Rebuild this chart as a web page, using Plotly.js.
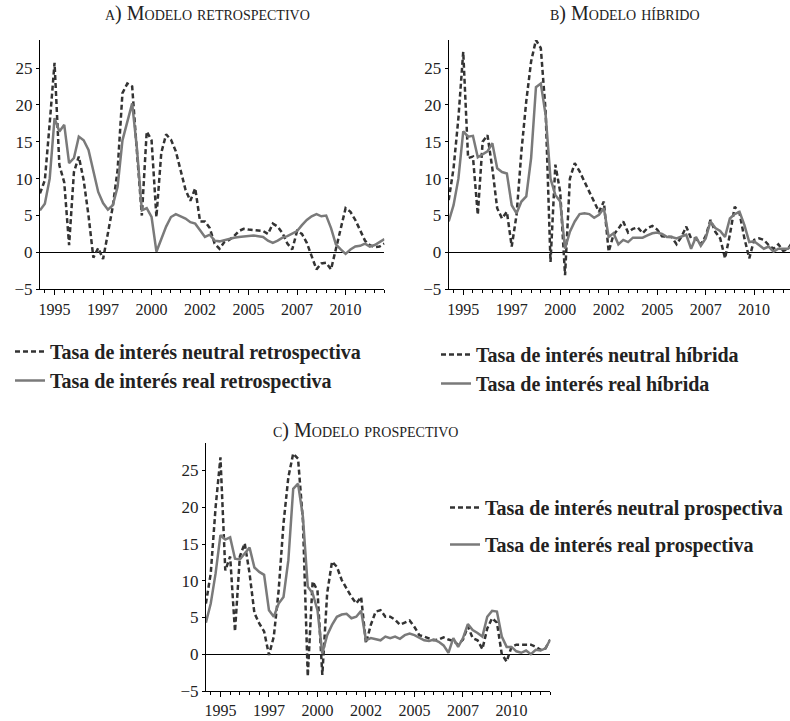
<!DOCTYPE html>
<html>
<head>
<meta charset="utf-8">
<script src="https://cdn.plot.ly/plotly-3.0.1.min.js"></script>
<style>html,body{margin:0;padding:0;background:#fff}#chart{width:790px;height:721px}</style>
</head>
<body>
<div id="chart"></div>
<script>
// trimestres: 1994 T2 a 2012 T1
const quarters = [];
for (let y = 1994; y <= 2012; y++) {
    for (let q = 0; q < 4; q++) {
        const t = y + q / 4;
        if (t >= 1994.25 && t <= 2012) quarters.push(t);
    }
}

const tickYears = [1995, 1997.5, 2000, 2002.5, 2005, 2007.5, 2010];
const tickLabels = ['1995', '1997', '2000', '2002', '2005', '2007', '2010'];

// a) modelo retrospectivo
const retroNeutral = [8.0, 9.8, 17.5, 25.7, 11.8, 9.5, 1.0, 10.9, 13.0, 9.8, 5.0, -0.7, 0.6, -0.9, 2.6, 6.2, 11.2, 21.6, 22.9, 22.5,
    13.5, 5.0, 16.4, 15.2, 4.8, 13.5, 16.0, 15.3, 13.7, 11.0, 8.5, 7.0, 8.7, 4.2, 4.2, 3.3, 1.2, 0.5, 1.4, 1.7,
    2.2, 2.9, 3.2, 3.1, 3.0, 2.9, 2.9, 2.5, 3.9, 3.5, 2.6, 1.2, 0.4, 2.9, 2.5, 1.3, -0.5, -2.3, -1.5, -1.4,
    -2.3, 0.5, 3.3, 6.0, 5.5, 4.4, 3.0, 1.6, 1.0, 0.7, 0.8, 1.2];
const retroReal = [5.7, 6.6, 10.0, 18.2, 16.4, 17.3, 12.1, 12.8, 15.7, 15.2, 13.9, 11.2, 8.2, 6.7, 5.8, 6.4, 8.9, 15.2, 17.7, 20.2,
    14.0, 5.7, 6.0, 4.8, 0.1, 1.8, 3.5, 4.8, 5.2, 4.9, 4.6, 4.1, 3.9, 3.0, 2.1, 2.4, 1.6, 1.5, 1.7, 1.8,
    2.0, 2.1, 2.2, 2.3, 2.3, 2.2, 2.1, 1.6, 1.3, 1.6, 2.0, 2.2, 2.6, 2.9, 3.7, 4.4, 4.9, 5.2, 4.9, 5.0,
    3.3, 1.1, 0.4, -0.2, 0.4, 0.8, 0.9, 1.2, 0.8, 1.0, 1.4, 1.8];

// b) modelo híbrido
const hibNeutral = [7.1, 11.4, 18.2, 27.2, 12.8, 13.0, 5.1, 15.0, 15.9, 11.4, 6.0, 4.6, 5.5, 0.8, 5.1, 13.7, 20.5, 25.9, 28.8, 27.7,
    19.1, -1.3, 11.9, 8.2, -3.1, 10.0, 12.1, 11.0, 9.6, 8.2, 6.9, 5.5, 6.9, 0.1, 2.4, 3.2, 4.2, 2.7, 3.2, 3.4,
    2.6, 3.3, 3.6, 3.1, 2.2, 2.1, 2.1, 1.1, 2.1, 3.5, 1.9, 1.9, 1.1, 2.2, 4.4, 2.8, 1.9, -0.8, 2.4, 6.2,
    5.3, 1.9, -0.8, 1.7, 1.9, 1.7, 1.0, 0.5, 1.1, 0.2, 0.5, 1.5];
const hibReal = [4.2, 6.4, 10.0, 16.4, 15.7, 15.8, 12.9, 13.3, 13.7, 14.8, 11.4, 10.9, 10.7, 6.4, 5.3, 6.9, 7.6, 12.8, 22.4, 22.9,
    18.6, 10.0, 7.8, 6.9, 0.5, 2.8, 4.2, 5.2, 5.3, 5.2, 4.7, 5.1, 6.0, 2.1, 2.6, 1.1, 1.7, 1.4, 2.0, 2.0,
    2.0, 2.3, 2.6, 2.7, 2.5, 2.1, 2.1, 1.9, 2.1, 2.4, 0.5, 2.1, 0.9, 1.9, 4.2, 3.3, 2.9, 2.1, 4.6, 5.2,
    5.5, 3.7, 1.4, 1.5, 1.0, 0.5, 0.8, 0.1, 0.5, 0.5, 0.5, 1.0];

// c) modelo prospectivo
const prosNeutral = [6.9, 11.0, 20.0, 26.8, 11.4, 13.3, 3.1, 13.3, 15.1, 11.0, 5.6, 4.2, 3.1, -0.1, 2.4, 8.7, 17.8, 24.1, 27.3, 26.6,
    18.2, -3.0, 9.9, 8.7, -2.8, 8.3, 12.6, 11.9, 10.1, 9.0, 7.8, 6.9, 7.8, 1.5, 4.0, 5.8, 6.0, 5.1, 5.1, 4.7,
    4.0, 4.3, 4.6, 3.7, 2.6, 2.4, 2.1, 1.9, 2.0, 2.3, 2.0, 1.8, 1.3, 2.0, 3.8, 2.2, 1.9, 0.7, 3.5, 4.9,
    4.3, 0.0, -1.0, 1.0, 1.3, 1.3, 1.3, 1.3, 1.0, 0.6, 0.8, 2.0];
const prosReal = [4.3, 6.9, 11.0, 16.2, 15.6, 15.9, 13.0, 12.9, 13.7, 14.5, 11.8, 11.2, 10.8, 6.0, 5.1, 6.9, 7.8, 12.8, 22.5, 23.2,
    18.7, 9.2, 8.3, 6.0, 0.1, 2.6, 4.0, 5.1, 5.4, 5.5, 4.9, 5.1, 5.9, 1.9, 2.2, 2.0, 1.9, 2.4, 2.2, 2.4,
    2.1, 2.6, 2.8, 2.6, 2.3, 1.9, 1.8, 2.0, 1.7, 1.2, 0.2, 2.2, 1.0, 2.2, 4.1, 3.3, 2.9, 2.4, 5.1, 5.9,
    5.8, 2.4, 1.0, 1.0, 0.4, 0.2, 0.5, 0.0, 0.6, 0.5, 0.8, 2.0];

const W = 790, H = 721;
const px = v => v / W;
const py = v => 1 - v / H;

const serif = 'Liberation Serif, DejaVu Serif, serif';
const dashStyle = { color: '#333', width: 2.5, dash: '5px,3px' };
const solidStyle = { color: '#7a7a7a', width: 2.5 };

function xAxis(left, right, end, anchor) {
    return {
        domain: [px(left), px(right)],
        anchor: anchor,
        range: [1994.25, end],
        tickmode: 'array',
        tickvals: tickYears,
        ticktext: tickLabels,
        ticks: 'outside', ticklen: 5, tickcolor: '#000',
        showline: true, linecolor: '#000', linewidth: 1,
        showgrid: false, zeroline: false,
        tickfont: { family: serif, size: 16, color: '#222' },
        minor: { tickmode: 'linear', tick0: 1994.5, dtick: 0.5, ticks: 'outside', ticklen: 3, tickcolor: '#000', showgrid: false }
    };
}

function yAxis(top, bottom, anchor, topVal) {
    return {
        domain: [py(bottom), py(top)],
        anchor: anchor,
        range: [-5, topVal],
        tickmode: 'linear', tick0: 0, dtick: 5,
        ticks: 'outside', ticklen: 3, tickcolor: '#000',
        showline: true, linecolor: '#000', linewidth: 1,
        showgrid: false,
        zeroline: true, zerolinecolor: '#000', zerolinewidth: 1,
        tickfont: { family: serif, size: 17, color: '#222' }
    };
}

function pair(neutral, real, nameN, nameR, xa, ya, leg) {
    return [
        { x: quarters, y: neutral, type: 'scatter', mode: 'lines', name: nameN, line: dashStyle,
          xaxis: xa, yaxis: ya, legend: leg, legendgroup: leg + 'n' },
        { x: quarters, y: real, type: 'scatter', mode: 'lines', name: nameR, line: solidStyle,
          xaxis: xa, yaxis: ya, legend: leg, legendgroup: leg + 'r' }
    ];
}

const data = [
    ...pair(retroNeutral, retroReal, 'Tasa de interés neutral retrospectiva', 'Tasa de interés real retrospectiva', 'x', 'y', 'legend'),
    ...pair(hibNeutral, hibReal, 'Tasa de interés neutral híbrida', 'Tasa de interés real híbrida', 'x2', 'y2', 'legend2'),
    ...pair(prosNeutral, prosReal, 'Tasa de interés neutral prospectiva', 'Tasa de interés real prospectiva', 'x3', 'y3', 'legend3')
];

const legendFont = { family: serif, size: 20, weight: 'bold', color: '#222' };
function legendAt(x, y, gap) {
    return { x: px(x), xanchor: 'left', y: py(y), yanchor: 'top', font: legendFont,
             tracegroupgap: gap, bgcolor: 'rgba(0,0,0,0)', itemclick: false };
}

function title(text, x, y) {
    return { text: text, x: px(x), y: py(y), xref: 'paper', yref: 'paper', showarrow: false,
             xanchor: 'center', yanchor: 'middle',
             font: { family: serif, size: 20, variant: 'small-caps', color: '#222' } };
}

const layout = {
    width: W, height: H,
    margin: { l: 0, r: 0, t: 0, b: 0 },
    paper_bgcolor: '#fff', plot_bgcolor: '#fff',
    showlegend: true,
    xaxis: xAxis(40, 384.4, 2012, 'y'),
    yaxis: yAxis(40, 289.3, 'x', 28.8),
    xaxis2: xAxis(448.7, 790, 2011.85, 'y2'),
    yaxis2: yAxis(40, 289.3, 'x2', 28.8),
    xaxis3: xAxis(205.9, 550.3, 2012, 'y3'),
    yaxis3: yAxis(443.3, 691, 'x3', 28.7),
    legend: legendAt(10, 332, 0),
    legend2: legendAt(436, 335, 0),
    legend3: legendAt(445, 488, 8),
    annotations: [
        title('a) Modelo retrospectivo', 207, 14),
        title('b) Modelo híbrido', 625, 14),
        title('c) Modelo prospectivo', 365, 431)
    ]
};

Plotly.newPlot('chart', data, layout, { staticPlot: true });
</script>
</body>
</html>
